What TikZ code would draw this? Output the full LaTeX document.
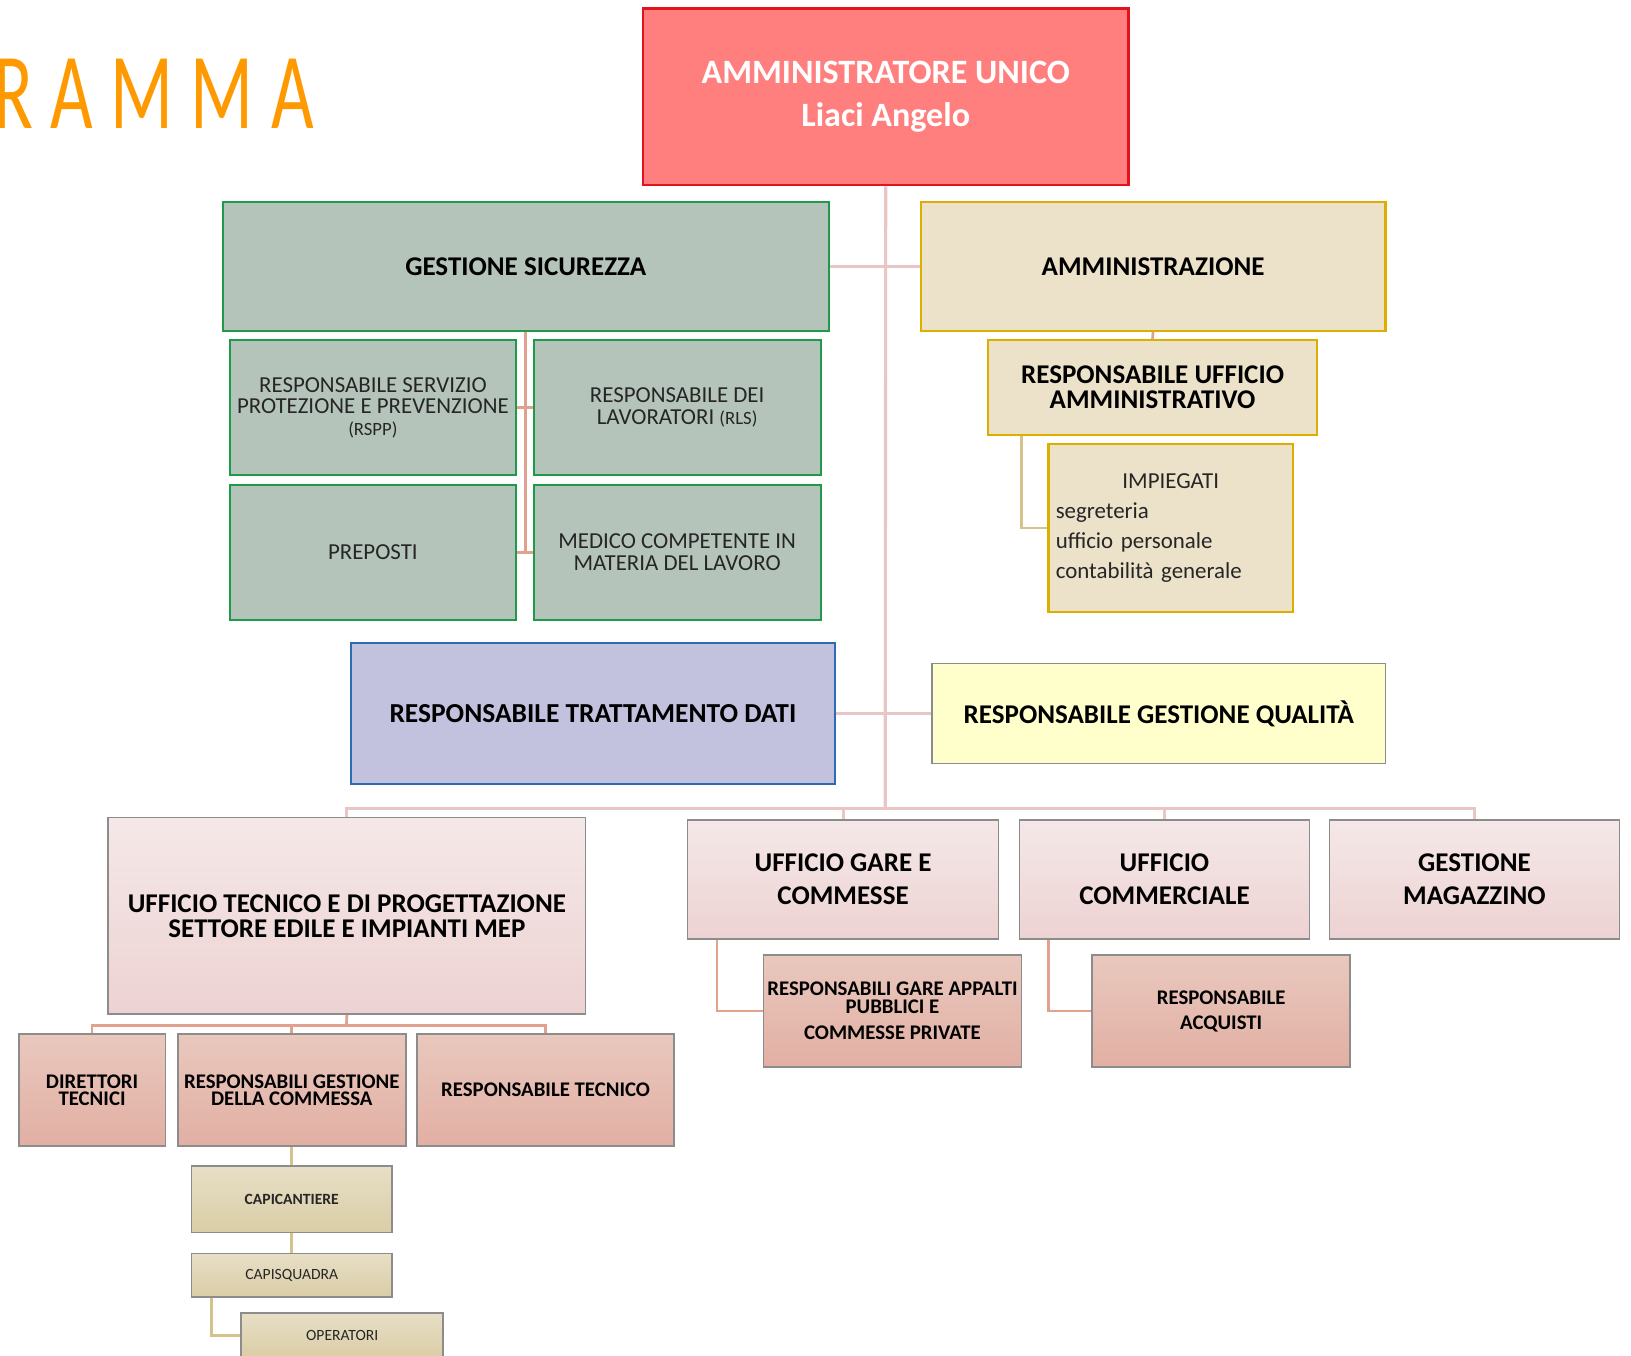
\documentclass[tikz,border=0pt]{standalone}
\usepackage{fontspec}
\setmainfont{Carlito}
\newfontfamily\titlefont[FakeStretch=0.68,LetterSpace=16]{Carlito}
\usetikzlibrary{positioning, calc}

% Colours
\definecolor{auFill}{HTML}{FF7F7F}
\definecolor{auLine}{HTML}{E3121C}
\definecolor{safeFill}{HTML}{B5C4BA}
\definecolor{safeLine}{HTML}{1F9A4B}
\definecolor{admFill}{HTML}{ECE2C9}
\definecolor{admLine}{HTML}{DDAE00}
\definecolor{dataFill}{HTML}{C3C2DE}
\definecolor{dataLine}{HTML}{2F6BB3}
\definecolor{qualFill}{HTML}{FFFFCC}
\definecolor{boxGray}{HTML}{8C8C8C}
\definecolor{pinkTop}{HTML}{F5E8E8}
\definecolor{pinkBot}{HTML}{EDD2D2}
\definecolor{salmonTop}{HTML}{E9C8BE}
\definecolor{salmonBot}{HTML}{E2AFA3}
\definecolor{tanTop}{HTML}{E7DFC6}
\definecolor{tanBot}{HTML}{DACDA6}
\definecolor{trunkCol}{HTML}{E9C5C6}
\definecolor{redLink}{HTML}{E2A08F}
\definecolor{tanLink}{HTML}{D6C38C}
\definecolor{titleOrange}{HTML}{FF9900}

\def\pxu{0.5pt}

\tikzset{
	orgbox/.style={rectangle, inner xsep=1pt, inner ysep=1pt, align=center, text=black},
	aubox/.style={orgbox, fill=auFill, draw=auLine, line width=1.2pt, text=white,
		font=\fontsize{16.4}{20.5}\selectfont\bfseries},
	safehead/.style={orgbox, fill=safeFill, draw=safeLine, line width=1pt,
		font=\fontsize{13}{15}\selectfont\bfseries},
	safesub/.style={orgbox, fill=safeFill, draw=safeLine, line width=1pt, text=black!85,
		font=\fontsize{11}{10.5}\selectfont},
	admhead/.style={orgbox, fill=admFill, draw=admLine, line width=1pt,
		font=\fontsize{13}{12}\selectfont\bfseries},
	admsub/.style={orgbox, fill=admFill, draw=admLine, line width=1pt, text=black!85,
		align=left, inner xsep=3.5pt, font=\fontsize{11}{14.5}\selectfont},
	databox/.style={orgbox, fill=dataFill, draw=dataLine, line width=1pt,
		font=\fontsize{13.2}{15}\selectfont\bfseries},
	qualbox/.style={orgbox, fill=qualFill, draw=boxGray, line width=0.6pt,
		font=\fontsize{13}{15}\selectfont\bfseries},
	officebox/.style={orgbox, top color=pinkTop, bottom color=pinkBot, draw=boxGray,
		line width=0.8pt, font=\fontsize{13}{12}\selectfont\bfseries},
	unitbox/.style={orgbox, top color=salmonTop, bottom color=salmonBot, draw=boxGray,
		line width=0.8pt, font=\fontsize{10}{8.5}\selectfont\bfseries},
	sitebox/.style={orgbox, top color=tanTop, bottom color=tanBot, draw=boxGray,
		line width=0.8pt, text=black!85, font=\fontsize{7.5}{9}\selectfont},
	trunk/.style={draw=trunkCol, line width=1.5pt},
	redlink/.style={draw=redLink, line width=1.3pt},
	tanlink/.style={draw=tanLink, line width=1.3pt}
}

\begin{document}
\begin{tikzpicture}[x=0.5pt, y=-0.5pt]

	% Page
	\path[use as bounding box, fill=white] (0,0) rectangle (1568,1303);

	% Title (cut at the left edge)
	\node[text=titleOrange, inner sep=0pt, anchor=base east,
		font=\fontsize{52}{52}\titlefont] (title) at (302,124) {RAMMA};

	% Top
	\node[aubox, minimum width=467*\pxu, minimum height=170*\pxu] (au) at (851.5,93)
		{AMMINISTRATORE UNICO\\Liaci Angelo};

	% Gestione sicurezza
	\node[safehead, minimum width=583*\pxu, minimum height=124*\pxu] (gs) at (505.5,256)
		{GESTIONE SICUREZZA};
	\node[safesub, minimum width=275*\pxu, minimum height=130*\pxu] (rspp) at (358.5,392)
		{RESPONSABILE SERVIZIO\\PROTEZIONE E PREVENZIONE\\{\fontsize{9}{10.5}\selectfont(RSPP)}};
	\node[safesub, minimum width=276*\pxu, minimum height=130*\pxu] (rls) at (651,392)
		{RESPONSABILE DEI\\LAVORATORI {\fontsize{9}{10.5}\selectfont(RLS)}};
	\node[safesub, minimum width=275*\pxu, minimum height=130*\pxu] (pre) at (358.5,531)
		{PREPOSTI};
	\node[safesub, minimum width=276*\pxu, minimum height=130*\pxu] (med) at (651,531)
		{MEDICO COMPETENTE IN\\MATERIA DEL LAVORO};

	% Amministrazione
	\node[admhead, minimum width=447*\pxu, minimum height=124*\pxu] (amm) at (1108.5,256)
		{AMMINISTRAZIONE};
	\node[admhead, minimum width=316*\pxu, minimum height=91*\pxu] (rua) at (1108,372.5)
		{RESPONSABILE UFFICIO\\AMMINISTRATIVO};
	\node[admsub, text width=221*\pxu, minimum height=161*\pxu] (imp) at (1125.5,507.5)
		{\makebox[\linewidth]{IMPIEGATI}\\segreteria\\ufficio personale\\contabilità generale};

	% Dati e qualita
	\node[databox, minimum width=466*\pxu, minimum height=136*\pxu] (rtd) at (570,686)
		{RESPONSABILE TRATTAMENTO DATI};
	\node[qualbox, minimum width=436*\pxu, minimum height=96*\pxu] (rgq) at (1114,686)
		{RESPONSABILE GESTIONE QUALITÀ};

	% Uffici
	\node[officebox, minimum width=459*\pxu, minimum height=189*\pxu] (ut) at (333.5,880.5)
		{UFFICIO TECNICO E DI PROGETTAZIONE\\SETTORE EDILE E IMPIANTI MEP};
	\node[officebox, font=\fontsize{13}{16}\selectfont\bfseries,
		minimum width=299*\pxu, minimum height=115*\pxu] (ugc) at (810.5,845.5)
		{UFFICIO GARE E\\COMMESSE};
	\node[officebox, font=\fontsize{13}{16}\selectfont\bfseries,
		minimum width=279*\pxu, minimum height=115*\pxu] (uc) at (1119.5,845.5)
		{UFFICIO\\COMMERCIALE};
	\node[officebox, font=\fontsize{13}{16}\selectfont\bfseries,
		minimum width=279*\pxu, minimum height=115*\pxu] (gm) at (1417.5,845.5)
		{GESTIONE\\MAGAZZINO};

	% Responsabili
	\node[unitbox, minimum width=141*\pxu, minimum height=108*\pxu] (dt) at (88.5,1048)
		{DIRETTORI\\TECNICI};
	\node[unitbox, minimum width=219*\pxu, minimum height=108*\pxu] (rgc) at (280.5,1048)
		{RESPONSABILI GESTIONE\\DELLA COMMESSA};
	\node[unitbox, minimum width=247*\pxu, minimum height=108*\pxu] (rt) at (524.5,1048)
		{RESPONSABILE TECNICO};
	\node[unitbox, minimum width=248*\pxu, minimum height=108*\pxu] (rgap) at (858,972)
		{RESPONSABILI GARE APPALTI\\PUBBLICI E\\[4pt]COMMESSE PRIVATE};
	\node[unitbox, minimum width=248*\pxu, minimum height=108*\pxu] (ra) at (1174,972)
		{RESPONSABILE\\[3.5pt]ACQUISTI};

	% Cantiere
	\node[sitebox, font=\fontsize{7.5}{9}\selectfont\bfseries,
		minimum width=193*\pxu, minimum height=64*\pxu] (capic) at (280.5,1153) {CAPICANTIERE};
	\node[sitebox, minimum width=193*\pxu, minimum height=42*\pxu] (capis) at (280.5,1226) {CAPISQUADRA};
	\node[sitebox, minimum width=194*\pxu, minimum height=44*\pxu] (oper) at (329,1284) {OPERATORI};

	% Connectors
	\coordinate (bus) at (851,777);
	\coordinate (utbus) at (333,986);
	\draw[trunk] (au.south) -- (bus);
	\draw[trunk] (gs.east) -- (amm.west);
	\draw[trunk] (rtd.east) -- (rgq.west);
	\draw[trunk] (ut.north) |- (gm.north |- bus) -- (gm.north);
	\draw[trunk] (ugc.north) -- (ugc.north |- bus);
	\draw[trunk] (uc.north) -- (uc.north |- bus);

	\draw[redlink] (gs.south) -- (gs.south |- pre.east);
	\draw[redlink] (rspp.east) -- (rls.west);
	\draw[redlink] (pre.east) -- (med.west);
	\draw[redlink] (amm.south) -- (rua.north);
	\draw[tanlink] ($(rua.south west)+(33,0)$) |- (imp.west);

	\draw[redlink] (ut.south) -- (utbus);
	\draw[redlink] (dt.north) |- (rt.north |- utbus) -- (rt.north);
	\draw[redlink] (rgc.north) -- (rgc.north |- utbus);
	\draw[redlink] ($(ugc.south west)+(29,0)$) |- (rgap.west);
	\draw[redlink] ($(uc.south west)+(29,0)$) |- (ra.west);

	\draw[tanlink] (rgc.south) -- (capic.north);
	\draw[tanlink] (capic.south) -- (capis.north);
	\draw[tanlink] ($(capis.south west)+(20,0)$) |- (oper.west);

\end{tikzpicture}
\end{document}
